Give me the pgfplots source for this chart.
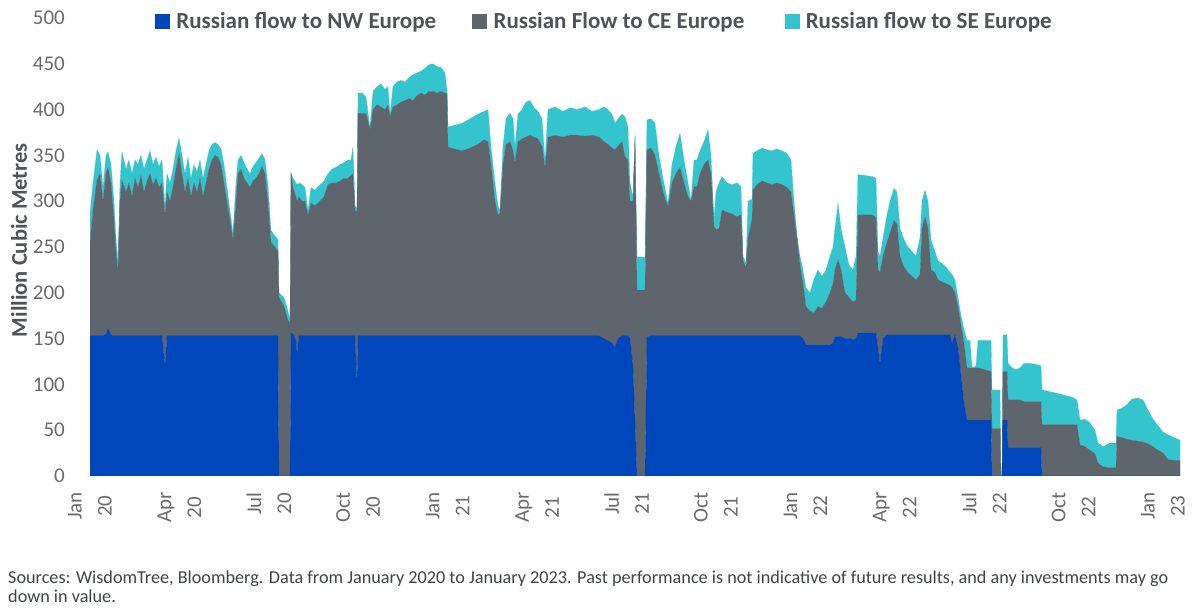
\documentclass[border=0pt]{standalone}
\usepackage{pgfplots}
\pgfplotsset{compat=1.18}
\usepackage{pgfplotstable}
\usepackage{fontspec}
\setmainfont{Carlito}
\definecolor{nwblue}{HTML}{0047BB}
\definecolor{cegrey}{HTML}{5E656C}
\definecolor{secyan}{HTML}{33C4CE}
\definecolor{ticktext}{HTML}{6A6A6A}
\definecolor{labtext}{HTML}{4F5358}
\definecolor{foottext}{HTML}{3F4346}

\pgfplotstableread{
x nw ce se
90 153 101 33
93 153 137 30
97 153 170 33
100 153 177 20
103 153 147 15
106 155 175 20
108 161 176 17
111 154 166 20
114 153 127 20
116 153 92 15
118 153 72 10
120 153 147 20
122 153 170 31
126 153 157 25
129 153 167 25
132 153 152 25
135 153 172 20
138 153 162 25
141 153 175 22
144 153 157 25
147 153 169 23
150 153 177 25
153 153 165 22
156 153 172 23
159 153 162 23
162 153 167 25
165 120 165 10
167 153 157 20
170 153 147 20
173 153 162 20
176 153 182 20
179 153 199 17
182 153 177 20
185 153 157 20
188 153 172 23
191 153 152 20
194 153 167 20
197 153 157 22
200 153 172 20
203 153 152 20
206 153 167 20
209 153 182 20
212 153 192 17
215 153 197 14
218 153 195 14
221 153 187 17
224 153 167 20
227 153 147 15
230 153 127 10
233 153 105 7
236 153 147 20
238 153 177 15
241 153 182 15
244 153 172 17
247 153 167 15
250 153 162 15
253 153 169 16
256 153 172 17
259 153 177 17
262 153 185 14
265 153 177 15
268 153 147 18
271 153 102 13
275 153 97 12
278 153 92 13
279 0 195 5
284 0 185 10
288 0 170 10
290 0 167 3
291 156 175 0
293 155 160 10
296 148 157 15
297 134 166 18
299 153 152 15
302 153 147 18
305 153 147 15
308 153 132 5
311 153 145 17
315 153 142 17
320 153 147 18
324 153 152 17
328 153 165 12
332 153 167 15
336 153 167 17
340 153 169 18
344 153 172 17
348 153 172 20
351 153 175 17
353 153 177 29
355 153 137 5
357 101 187 4
358 153 243 22
362 153 243 22
366 153 243 18
370 153 225 2
373 153 247 20
377 153 252 20
381 153 250 25
385 153 247 22
388 153 252 20
390 153 239 3
393 153 250 22
397 153 252 25
401 153 255 24
405 153 257 20
409 153 259 23
413 153 257 28
417 153 262 25
421 153 265 24
425 153 263 29
429 153 267 29
433 153 267 30
437 153 265 29
441 153 267 26
445 153 265 22
447 153 265 3
448 153 206 22
455 153 204 26
462 153 202 30
470 153 205 32
478 153 209 33
484 153 214 31
488 153 212 35
491 153 187 20
495 153 147 20
498 153 132 10
500 153 134 3
503 153 187 20
506 153 209 28
510 153 212 31
513 153 202 35
515 153 189 18
518 153 212 30
522 153 215 32
526 153 217 38
530 153 219 38
534 153 217 32
538 153 215 30
542 153 207 30
545 153 184 8
548 153 217 30
555 153 219 31
563 153 217 28
570 153 219 30
578 153 219 28
585 153 218 32
592 153 219 26
599 153 217 30
604 150 215 38
608 148 214 38
612 145 213 37
615 140 216 29
618 150 210 30
622 153 212 30
625 153 195 44
628 153 192 36
630 150 150 20
633 120 180 5
635 60 310 2
637 0 203 36
645 0 203 36
647 152 204 33
651 153 205 32
655 153 197 35
659 153 177 20
663 153 157 15
668 153 141 4
672 153 167 20
676 153 177 30
680 153 184 37
684 153 167 25
688 153 152 15
691 153 147 1
694 153 163 29
697 153 163 29
700 153 177 25
704 153 187 25
708 153 192 33
711 153 177 20
714 153 119 8
716 153 116 41
719 153 117 50
722 153 137 37
727 153 135 32
732 153 133 32
737 153 130 37
741 153 132 31
743 153 82 5
746 153 75 4
748 153 107 40
752 153 127 22
753 153 159 40
757 153 165 37
762 153 169 36
767 153 167 36
772 153 165 37
777 153 167 37
782 153 165 37
787 153 162 37
791 153 157 35
794 153 132 15
797 153 107 2
800 153 77 10
803 150 60 15
806 143 42 20
810 143 37 20
814 143 35 37
818 143 42 40
822 143 40 35
826 143 47 35
830 143 57 40
833 145 65 40
835 152 73 45
838 152 84 62
841 152 73 45
845 150 50 50
849 150 45 35
853 149 41 35
856 150 42 48
858 156 129 44
865 156 129 43
872 156 129 42
876 156 126 43
878 140 85 20
880 123 99 18
883 150 90 20
887 154 101 30
890 154 111 35
894 154 125 35
897 154 121 35
900 154 86 30
904 154 74 30
908 154 68 28
912 154 64 27
916 154 60 26
920 154 66 40
922 154 116 30
925 154 129 29
928 154 116 30
931 154 71 33
935 154 68 23
938 154 60 21
942 154 58 20
946 154 56 18
950 154 54 14
952 145 61 14
955 154 46 14
958 140 45 10
961 110 55 10
964 80 65 15
967 61 57 30
970 61 57 30
972 61 57 0
976 61 57 2
978 61 57 30
985 61 55 32
991 61 53 34
992 0 52 42
1000 0 52 42
1001 0 0 0
1002 0 0 0
1003 61 53 40
1007 61 53 40
1008 31 52 40
1012 31 52 35
1016 31 52 33
1020 31 52 35
1024 31 50 42
1030 31 50 42
1036 31 50 41
1041 31 50 39
1042 0 56 38
1050 0 56 36
1058 0 56 34
1065 0 56 32
1072 0 56 30
1077 0 56 27
1080 0 34 27
1085 0 32 30
1090 0 28 30
1095 0 24 26
1098 0 14 22
1103 0 10 22
1110 0 9 27
1116 0 9 27
1117 0 43 29
1122 0 42 32
1127 0 40 38
1132 0 39 45
1138 0 38 47
1143 0 37 46
1148 0 35 37
1153 0 32 30
1158 0 28 27
1163 0 25 23
1168 0 18 27
1174 0 17 25
1180 0 17 22
}\flows

\begin{document}
\begin{tikzpicture}[x=1pt,y=1pt]
\begin{axis}[
  at={(90pt,133pt)}, anchor=south west,
  scale only axis, width=1090pt, height=458pt,
  xmin=90, xmax=1180, ymin=0, ymax=500,
  axis line style={draw=none}, major tick length=0pt,
  stack plots=y,
  ytick={0,50,...,500},
  xtick={90,179.42,268.83,358.25,447.67,537.08,626.5,715.92,805.33,894.75,984.17,1073.58,1163},
  xticklabels={{Jan\\20},{Apr\\20},{Jul\\20},{Oct\\20},{Jan\\21},{Apr\\21},{Jul\\21},{Oct\\21},{Jan\\22},{Apr\\22},{Jul\\22},{Oct\\22},{Jan\\23}},
  /pgf/number format/assume math mode=true,
  yticklabel style={font=\fontsize{21}{24}\selectfont, text=ticktext, anchor=east, inner sep=0pt, xshift=-25pt},
  xticklabel style={font=\fontsize{21}{30}\selectfont, text=ticktext, rotate=90, anchor=east, align=center, inner sep=0pt},
  xticklabel shift=16pt,
  ylabel={Million Cubic Metres},
  ylabel style={font=\bfseries\fontsize{22.5}{24}\selectfont, text=labtext, at={(axis description cs:-0.0651,0.515)}, anchor=center},
  legend columns=3,
  legend style={at={(axis description cs:0.0596,0.9924)}, anchor=west, draw=none, fill=none, inner sep=0pt,
    nodes={inner sep=0pt},
    font=\bfseries\fontsize{23}{24}\selectfont, text=labtext,
    /tikz/every even column/.append style={column sep=0pt}},
  legend image code/.code={\fill[#1] (0pt,-7pt) rectangle (14pt,7pt);},
]
\addplot[fill=nwblue, draw=nwblue, line width=0.2pt] table[x=x, y=nw] {\flows} \closedcycle;
\addlegendentry{\makebox[303pt][l]{\hspace{7pt}Russian flow to NW Europe}}
\addplot[fill=cegrey, draw=cegrey, line width=0.2pt] table[x=x, y=ce] {\flows} \closedcycle;
\addlegendentry{\makebox[298pt][l]{\hspace{7pt}Russian Flow to CE Europe}}
\addplot[fill=secyan, draw=secyan, line width=0.2pt] table[x=x, y=se] {\flows} \closedcycle;
\addlegendentry{\makebox[270pt][l]{\hspace{7pt}Russian flow to SE Europe}}
\end{axis}
\node[anchor=base west, inner sep=0pt, font=\fontsize{18.2}{19}\selectfont, text=foottext] at (8pt,25pt) {Sources: WisdomTree, Bloomberg. Data from January 2020 to January 2023. Past performance is not indicative of future results, and any investments may go};
\node[anchor=base west, inner sep=0pt, font=\fontsize{18.2}{19}\selectfont, text=foottext] at (8pt,6pt) {down in value.};
\pgfresetboundingbox
\useasboundingbox (0,0) rectangle (1200pt,609pt);
\end{tikzpicture}
\end{document}
